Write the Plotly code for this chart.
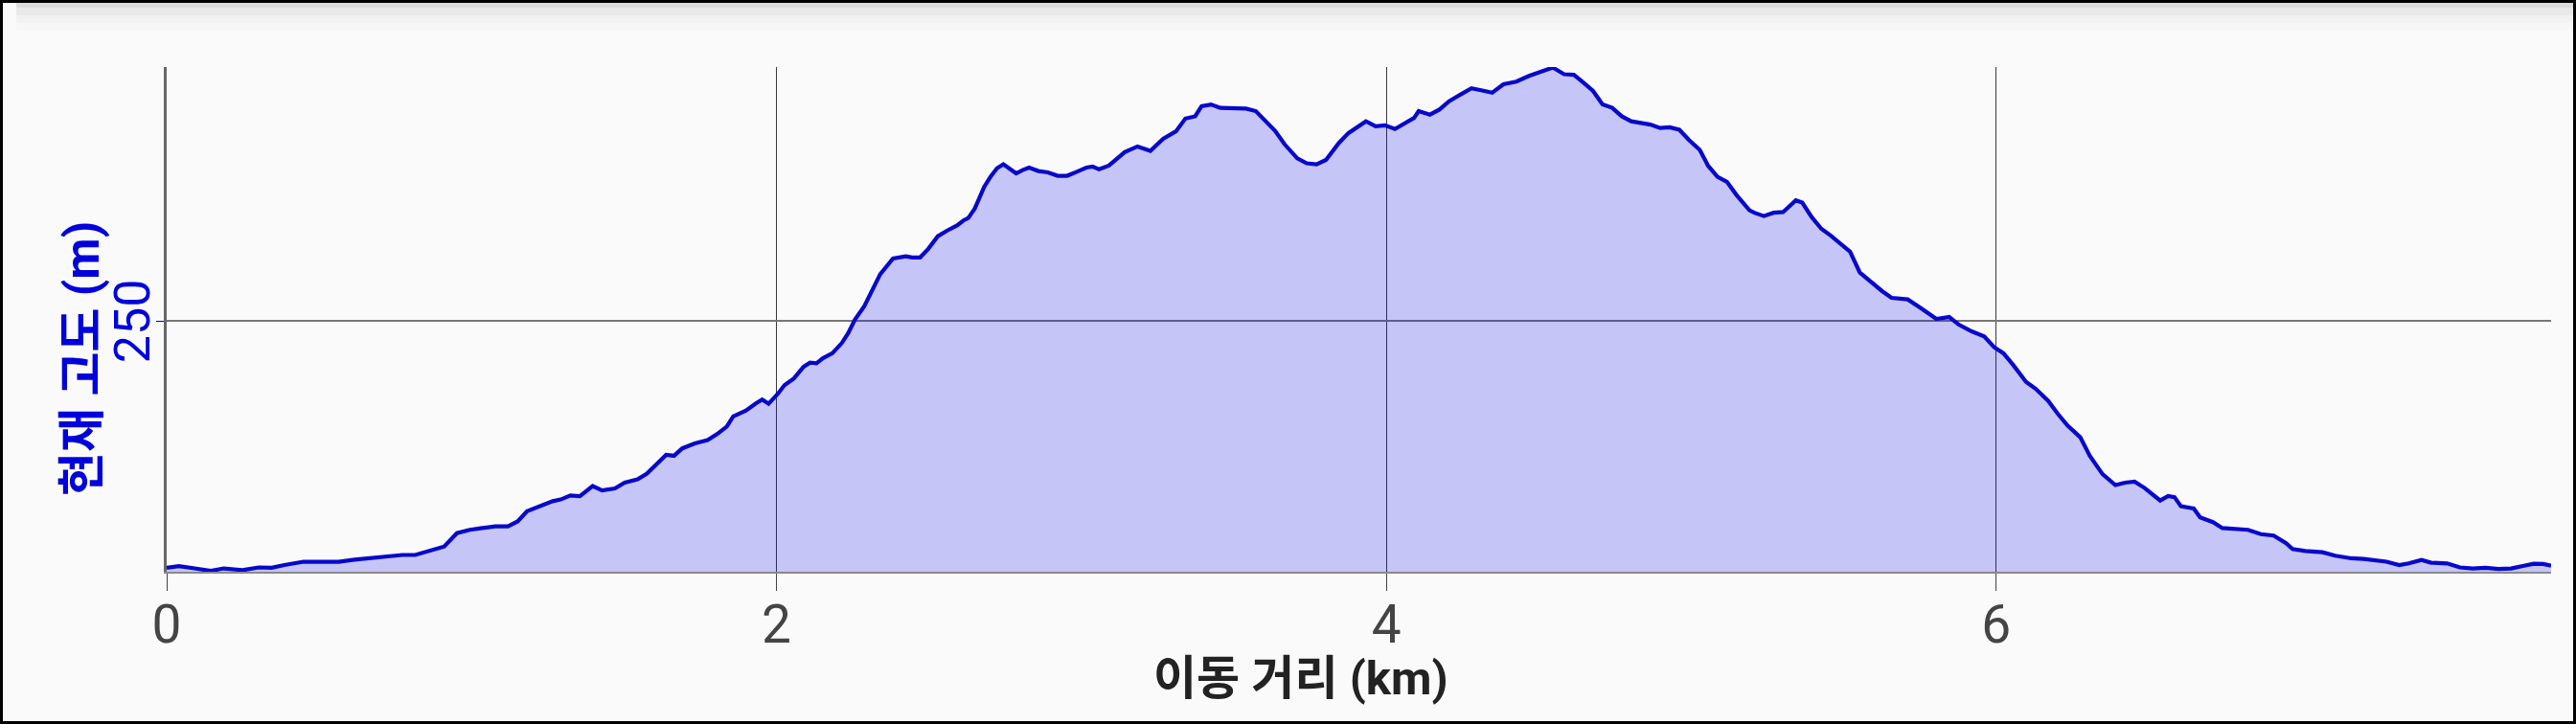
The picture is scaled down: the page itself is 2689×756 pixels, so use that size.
import plotly.graph_objects as go

# ---- data ----
distance_km = [
    0.000, 0.040, 0.092, 0.145, 0.187, 0.249, 0.302, 0.344, 0.386, 0.428,
    0.449, 0.512, 0.564, 0.616, 0.669, 0.721, 0.773, 0.815, 0.857, 0.910,
    0.952, 0.994, 1.035, 1.077, 1.119, 1.151, 1.182, 1.224, 1.266,
    1.292, 1.324, 1.355, 1.397, 1.428, 1.470, 1.502, 1.544, 1.575, 1.607,
    1.638, 1.664, 1.691, 1.732, 1.774, 1.806, 1.837, 1.858, 1.900, 1.931,
    1.953, 1.974, 2.005, 2.026, 2.057, 2.089, 2.110, 2.131, 2.152, 2.183,
    2.214, 2.235, 2.257, 2.288, 2.309, 2.340, 2.382, 2.424, 2.445, 2.471,
    2.497, 2.529, 2.560, 2.592, 2.613,
    2.629, 2.650, 2.681, 2.702, 2.723, 2.744, 2.765, 2.786, 2.807, 2.828,
    2.859, 2.890, 2.922, 2.953, 2.985, 3.016, 3.037, 3.058, 3.090, 3.121,
    3.142, 3.184, 3.226, 3.268, 3.310, 3.341, 3.373, 3.394, 3.425, 3.456,
    3.499, 3.540, 3.572, 3.603, 3.635, 3.666, 3.708, 3.739, 3.771, 3.802,
    3.844, 3.876,
    3.902, 3.933, 3.965, 3.996, 4.028, 4.059, 4.091, 4.106, 4.143, 4.174,
    4.206, 4.248, 4.279, 4.311, 4.347, 4.384, 4.426, 4.468, 4.510, 4.546,
    4.583, 4.615, 4.646, 4.678, 4.709, 4.741, 4.772, 4.803, 4.835, 4.866,
    4.898, 4.929, 4.961, 4.992, 5.028, 5.055, 5.086, 5.117, 5.149, 5.191,
    5.207, 5.238, 5.270, 5.301, 5.343, 5.364, 5.395, 5.427, 5.458, 5.490,
    5.521, 5.553, 5.584, 5.626, 5.657, 5.710, 5.752, 5.804, 5.846, 5.878,
    5.920, 5.961, 5.993, 6.024, 6.056, 6.098, 6.129, 6.171, 6.202, 6.234,
    6.276, 6.307, 6.349, 6.391, 6.423, 6.454, 6.486,
    6.512, 6.538, 6.564, 6.585, 6.606, 6.648, 6.669, 6.711, 6.742, 6.784,
    6.826, 6.868, 6.910, 6.951, 6.972, 7.014, 7.070, 7.112, 7.164, 7.206,
    7.248, 7.280, 7.322, 7.353, 7.395, 7.427, 7.479, 7.521, 7.563, 7.605,
    7.647, 7.689, 7.731, 7.763, 7.794, 7.820,
]

elevation_m = [
    4.0, 5.6, 3.3, 0.9, 3.3, 1.6, 4.3, 4.0, 6.7, 8.3,
    10.0, 10.0, 10.0, 12.0, 13.4, 15.4, 16.7, 16.7, 20.7, 25.1,
    38.5, 41.8, 43.5, 45.2, 45.2, 50.2, 60.3, 65.3, 70.3,
    72.0, 76.0, 75.4, 85.4, 81.1, 83.1, 88.8, 92.1, 97.8, 107.2,
    116.6, 115.6, 123.0, 128.0, 131.3, 137.4, 144.8, 154.8, 160.8, 167.5,
    171.6, 167.5, 177.6, 186.0, 192.7, 204.4, 208.4, 207.8, 212.8, 217.8,
    227.9, 237.9, 251.3, 264.8, 278.2, 296.6, 312.3, 314.4, 313.4, 313.4,
    321.7, 334.5, 340.2, 345.2, 350.2,
    352.6, 362.0, 383.7, 393.8, 402.2, 406.2, 402.2, 397.2, 400.5, 402.9,
    399.5, 398.2, 394.8, 394.8, 398.8, 402.9, 403.9, 401.2, 404.9, 412.2,
    418.3, 424.0, 419.6, 431.7, 439.1, 451.8, 454.1, 464.2, 465.9, 462.5,
    462.5, 461.8, 459.2, 449.8, 439.7, 426.3, 412.2, 407.2, 406.2, 410.6,
    427.3, 437.4,
    442.4, 449.1, 444.1, 445.1, 441.4, 446.4, 452.5, 459.2, 455.8, 460.8,
    469.2, 476.6, 482.0, 480.0, 477.6, 486.0, 488.7, 494.4, 498.7, 502.7,
    496.0, 495.4, 487.7, 479.3, 465.9, 462.5, 454.1, 449.1, 447.4, 445.8,
    442.4, 443.1, 440.7, 430.7, 420.6, 404.9, 393.8, 388.8, 375.4, 360.3,
    357.9, 354.6, 357.9, 358.6, 370.3, 368.0, 353.6, 341.8, 335.1, 326.8,
    319.0, 298.3, 289.9, 279.8, 273.1, 271.5, 263.1, 252.0, 254.0, 246.3,
    239.6, 234.6, 223.9, 217.8, 206.1, 189.3, 182.6, 170.2, 157.5, 145.8,
    134.0, 115.6, 97.2, 86.4, 88.8, 89.8, 83.7,
    77.7, 71.0, 75.4, 74.4, 65.3, 63.0, 54.2, 49.5, 43.5, 42.8,
    41.8, 37.5, 36.1, 28.4, 22.7, 20.7, 19.4, 16.0, 13.4, 12.7,
    11.7, 10.0, 6.7, 8.3, 11.7, 9.0, 8.3, 4.3, 3.3, 4.0,
    2.7, 3.3, 6.0, 8.0, 7.7, 6.0,
]

x_tick_values = [0, 2, 4, 6]
x_tick_labels = ["0", "2", "4", "6"]
y_tick_values = [250]
y_tick_labels = ["250"]
x_title = "<b>이동 거리 (km)</b>"
y_title = "<b>현재 고도 (m)</b>"
x_range = [0, 7.82]
y_range = [0, 503.2]

# ---- layout geometry (pixels) ----
W, H = 2689, 756
ML, MR, MT, MB = 174, 26, 70, 159
PW = W - ML - MR
PH = H - MT - MB


def px_x(px):
    return (px - ML) / PW


def px_y(py):
    return (H - MB - py) / PH


BG = "#fafafa"
BLUE = "#0000dd"

fig = go.Figure()
fig.add_trace(go.Scatter(
    x=distance_km, y=elevation_m, mode="lines",
    line=dict(color="#0808cc", width=4.2),
    fill="tozeroy", fillcolor="rgba(0,0,235,0.21)",
    hoverinfo="skip", showlegend=False,
))

shapes = []
# faint header shadow at the top
for i, op in enumerate([0.05, 0.035, 0.02, 0.01]):
    shapes.append(dict(type="rect", xref="paper", yref="paper",
                       x0=px_x(17), x1=px_x(W), y0=px_y(8 * (i + 1)), y1=px_y(0),
                       fillcolor=f"rgba(0,0,0,{op})", line=dict(width=0), layer="below"))
# black frame around the picture
shapes.append(dict(type="rect", xref="paper", yref="paper",
                   x0=px_x(1.5), x1=px_x(W - 1.5), y0=px_y(H - 1.5), y1=px_y(1.5),
                   line=dict(color="black", width=3), fillcolor="rgba(0,0,0,0)"))

annotations = [
    dict(text=x_title, xref="paper", yref="paper", x=px_x(1358), y=px_y(708),
         xanchor="center", yanchor="middle", showarrow=False,
         font=dict(size=49, color="#222", family="Roboto, Noto Sans CJK KR")),
    dict(text=y_title, xref="paper", yref="paper", x=px_x(86), y=px_y(375),
         xanchor="center", yanchor="middle", showarrow=False, textangle=-90,
         font=dict(size=50, color=BLUE, family="Roboto, Noto Sans CJK KR")),
]
# y tick labels, rotated, next to the axis
for v, t in zip(y_tick_values, y_tick_labels):
    annotations.append(dict(text=t, xref="paper", yref="y", x=px_x(138), y=v,
                            xanchor="center", yanchor="middle", showarrow=False,
                            textangle=-90,
                            font=dict(size=52, color=BLUE, family="Roboto")))

fig.update_layout(
    width=W, height=H,
    margin=dict(l=ML, r=MR, t=MT, b=MB, pad=0),
    paper_bgcolor=BG, plot_bgcolor=BG,
    font=dict(family="Roboto, Noto Sans CJK KR, sans-serif"),
    shapes=shapes,
    annotations=annotations,
    xaxis=dict(
        range=x_range, tickmode="array", tickvals=x_tick_values, ticktext=x_tick_labels,
        showgrid=True, gridcolor="#3a3a3a", gridwidth=1,
        ticks="outside", ticklen=18, tickwidth=1, tickcolor="#444",
        ticklabelstandoff=-12,
        tickfont=dict(size=55, color="#444", family="Roboto"),
        showline=True, linecolor="#8a8a8a", linewidth=2, mirror=False,
        zeroline=False, fixedrange=True,
    ),
    yaxis=dict(
        range=y_range, tickmode="array", tickvals=y_tick_values, ticktext=[""],
        showticklabels=False,
        showgrid=True, gridcolor="#777", gridwidth=1.5,
        ticks="outside", ticklen=8, tickwidth=1, tickcolor=BLUE,
        showline=True, linecolor="#666", linewidth=2.5,
        zeroline=False, fixedrange=True,
    ),
)

fig.write_html(
    "out.html",
    config={"displayModeBar": False},
    post_script="document.body.style.margin='0';document.body.style.overflow='hidden';",
)
